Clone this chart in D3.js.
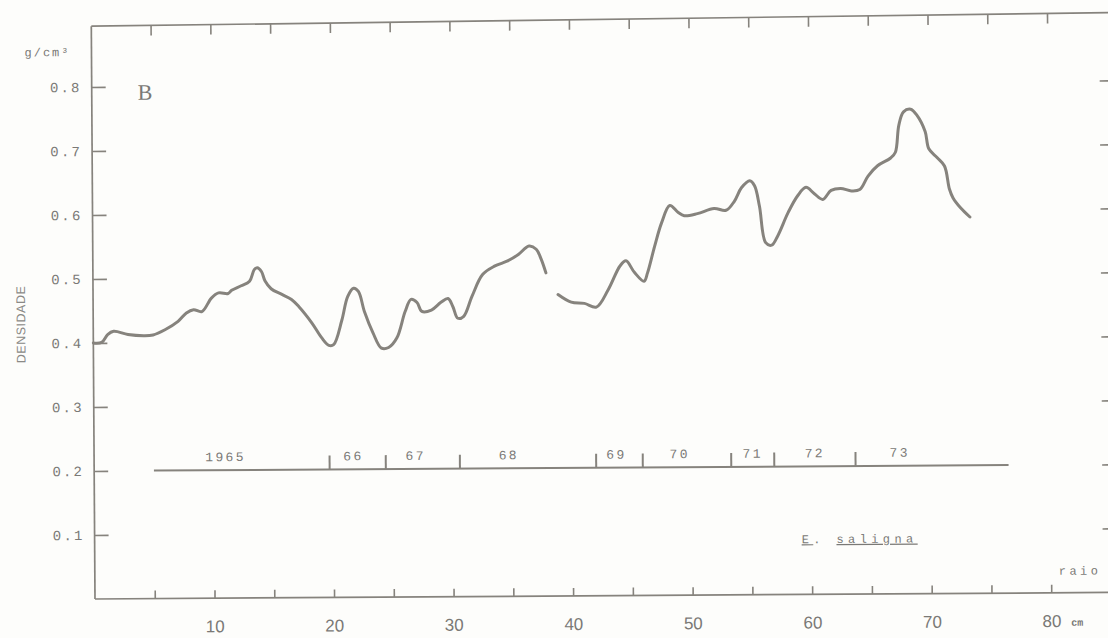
<!DOCTYPE html>
<html>
<head>
<meta charset="utf-8">
<script src="https://cdn.jsdelivr.net/npm/d3@7"></script>
<style>
  html, body { margin: 0; padding: 0; background: #fdfdfb; }
  svg { display: block; }
</style>
</head>
<body>
<svg id="chart" width="1108" height="638"></svg>
<script>
// radial position (cm) and wood density (g/cm3); null = pen lifted
const radius = [0.0, 0.7, 1.2, 1.7, 2.9, 4.2, 5.0, 6.0, 7.1, 7.8, 8.4, 9.1, 9.9, 10.5, 11.3, 11.6,
  12.4, 13.1, 13.5, 13.75, 14.1, 14.4, 14.9, 15.8, 16.6, 17.2, 18.3, 19.1, 19.7, 20.1, 20.8,
  21.3, 21.8, 22.2, 22.7, 23.4, 24.1, 24.7, 25.4, 26.1, 26.6, 27.1, 27.5, 28.3, 29.1, 29.7,
  30.1, 30.5, 31.0, 31.7, 32.6, 33.6, 34.7, 35.6, 36.5, 37.1, 37.5, 37.9, 38.4,
  38.9, 40.0, 41.1, 42.1, 43.1, 44.1, 44.6, 45.3, 46.1, 46.4, 47.0, 47.6, 48.3, 49.0, 49.5,
  50.6, 52.0, 53.0, 53.7, 54.3, 55.0, 55.4, 55.8, 56.3, 56.8, 57.3, 58.2, 59.0, 59.7, 60.4,
  61.1, 61.8, 62.6, 63.5, 64.2, 64.9, 65.7, 66.8, 67.2, 67.5, 67.9, 68.5, 69.0, 69.7, 70.0,
  70.7, 71.3, 71.7, 72.0, 72.6, 73.4];
const density = [0.400, 0.401, 0.413, 0.418, 0.413, 0.411, 0.412, 0.420, 0.433, 0.446, 0.451, 0.448, 0.469, 0.477, 0.476, 0.481,
  0.488, 0.495, 0.513, 0.516, 0.510, 0.495, 0.483, 0.474, 0.466, 0.455, 0.429, 0.406, 0.394, 0.395, 0.433,
  0.470, 0.483, 0.478, 0.446, 0.413, 0.389, 0.390, 0.405, 0.446, 0.465, 0.460, 0.446, 0.448, 0.460, 0.466,
  0.453, 0.435, 0.438, 0.469, 0.503, 0.516, 0.524, 0.534, 0.547, 0.542, 0.527, 0.505, null,
  0.471, 0.459, 0.457, 0.451, 0.478, 0.515, 0.523, 0.505, 0.491, 0.504, 0.545, 0.582, 0.609, 0.598, 0.593,
  0.596, 0.604, 0.601, 0.615, 0.636, 0.647, 0.639, 0.607, 0.550, 0.546, 0.560, 0.597, 0.623, 0.636, 0.626,
  0.617, 0.631, 0.634, 0.630, 0.632, 0.653, 0.669, 0.681, 0.690, 0.732, 0.753, 0.757, 0.748, 0.722, 0.695,
  0.681, 0.668, 0.632, 0.618, 0.603, 0.588];

// growth rings marked along the 0.2 line
const yearSpan = [5.0, 76.5];
const yearBounds = [19.7, 24.4, 30.6, 42.0, 45.9, 53.3, 56.9, 63.7];
const yearNames = ["1965", "66", "67", "68", "69", "70", "71", "72", "73"];
const yearLabelAt = [11.0, 21.7, 26.9, 34.7, 43.7, 49.0, 55.1, 60.3, 67.4];
const yearLevel = 0.2;

const yTicks = [0.1, 0.2, 0.3, 0.4, 0.5, 0.6, 0.7, 0.8];
const xTicks = [5, 10, 15, 20, 25, 30, 35, 40, 45, 50, 55, 60, 65, 70, 75, 80];

const ink = "#86837d";
const textInk = "#7a7976";
const mono = "'Liberation Mono', 'DejaVu Sans Mono', monospace";

const svg = d3.select("#chart");
// the scan is tilted a little, so the whole sheet is turned with it
const g = svg.append("g").attr("transform", "rotate(-0.37, 95, 599)");

const x = d3.scaleLinear().domain([0, 85.5]).range([95, 1117]);
const y = d3.scaleLinear().domain([0, 0.9]).range([599, 23]);

// frame
g.append("line")
  .attr("x1", x(0)).attr("x2", x(0))
  .attr("y1", y(0)).attr("y2", y(0.895))
  .attr("stroke", ink).attr("stroke-width", 1.7);
g.append("line")
  .attr("x1", x(0)).attr("x2", x(85.5))
  .attr("y1", y(0)).attr("y2", y(0))
  .attr("stroke", ink).attr("stroke-width", 1.7);
g.append("line")
  .attr("x1", x(0)).attr("x2", x(85.5))
  .attr("y1", y(0.895)).attr("y2", y(0.906))
  .attr("stroke", ink).attr("stroke-width", 1.7);
g.append("line")
  .attr("x1", x(85.5)).attr("x2", x(85.5))
  .attr("y1", y(0)).attr("y2", y(0.906))
  .attr("stroke", ink).attr("stroke-width", 1.7);

// left axis
const yAxis = g.append("g")
  .attr("transform", `translate(${x(0)},0)`)
  .call(d3.axisLeft(y).tickValues(yTicks).tickSize(-14).tickPadding(12).tickFormat(d3.format(".1f")));
yAxis.select(".domain").remove();
yAxis.selectAll(".tick line").attr("stroke", ink).attr("stroke-width", 1.7);
yAxis.selectAll(".tick text")
  .attr("fill", textInk).attr("font-family", mono).attr("font-size", 14)
  .attr("letter-spacing", 2.2).attr("dx", 2);

// right axis, mostly off the page
const yAxisR = g.append("g")
  .attr("transform", `translate(${x(85.5)},0)`)
  .call(d3.axisRight(y).tickValues(yTicks).tickSize(-14).tickFormat(""));
yAxisR.select(".domain").remove();
yAxisR.selectAll(".tick line").attr("stroke", ink).attr("stroke-width", 1.7);

// bottom axis
const xAxis = g.append("g")
  .attr("transform", `translate(0,${y(0)})`)
  .call(d3.axisBottom(x).tickValues(xTicks).tickSize(-8).tickPadding(22)
    .tickFormat(d => d % 10 === 0 ? d : ""));
xAxis.select(".domain").remove();
xAxis.selectAll(".tick line").attr("stroke", ink).attr("stroke-width", 1.6);
xAxis.selectAll(".tick text")
  .attr("fill", textInk).attr("font-family", "'Liberation Sans', Arial, sans-serif")
  .attr("font-size", 17);

// top ticks
g.append("g").selectAll("line")
  .data(xTicks)
  .join("line")
  .attr("x1", d => x(d)).attr("x2", d => x(d))
  .attr("y1", d => y(0.895 + 0.011 * d / 85.5))
  .attr("y2", d => y(0.895 + 0.011 * d / 85.5) + 10)
  .attr("stroke", ink).attr("stroke-width", 1.6);

// density trace
const line = d3.line()
  .defined((d, i) => density[i] !== null)
  .x((d, i) => x(radius[i]))
  .y((d, i) => y(density[i]))
  .curve(d3.curveCatmullRom.alpha(0.5));

g.append("path")
  .datum(radius)
  .attr("d", line)
  .attr("fill", "none")
  .attr("stroke", "#86837d")
  .attr("stroke-width", 3)
  .attr("stroke-linejoin", "round")
  .attr("stroke-linecap", "round");

// year line
g.append("line")
  .attr("x1", x(yearSpan[0])).attr("x2", x(yearSpan[1]))
  .attr("y1", y(yearLevel)).attr("y2", y(yearLevel))
  .attr("stroke", ink).attr("stroke-width", 2);

g.append("g").selectAll("line")
  .data(yearBounds)
  .join("line")
  .attr("x1", d => x(d)).attr("x2", d => x(d))
  .attr("y1", y(yearLevel)).attr("y2", y(yearLevel) - 14)
  .attr("stroke", ink).attr("stroke-width", 2);

g.append("g").selectAll("text")
  .data(yearNames)
  .join("text")
  .attr("x", (d, i) => x(yearLabelAt[i]))
  .attr("y", y(yearLevel) - 9)
  .attr("text-anchor", "middle")
  .attr("fill", textInk).attr("font-family", mono).attr("font-size", 13)
  .attr("letter-spacing", 2.4)
  .text(d => d);

// labels
g.append("text")
  .attr("x", 28).attr("y", 56)
  .attr("fill", textInk).attr("font-family", mono).attr("font-size", 12)
  .attr("letter-spacing", 2)
  .text("g/cm³");

g.append("text")
  .attr("x", 141).attr("y", 100)
  .attr("fill", textInk).attr("font-family", "'Liberation Serif', 'DejaVu Serif', serif")
  .attr("font-size", 22)
  .text("B");

g.append("text")
  .attr("transform", "translate(27,324) rotate(-90)")
  .attr("text-anchor", "middle")
  .attr("fill", "#8a8986").attr("font-family", "'Liberation Sans', Arial, sans-serif")
  .attr("font-size", 12.5).attr("letter-spacing", 0.5)
  .text("DENSIDADE");

g.append("text")
  .attr("x", 802).attr("y", y(0.08))
  .attr("fill", textInk).attr("font-family", mono).attr("font-size", 12)
  .attr("letter-spacing", 4.4)
  .call(t => t.append("tspan").attr("text-decoration", "underline").text("E"))
  .call(t => t.append("tspan").text(". "))
  .call(t => t.append("tspan").attr("text-decoration", "underline").text("saligna"));

g.append("text")
  .attr("x", 1059).attr("y", 581)
  .attr("fill", textInk).attr("font-family", mono).attr("font-size", 12)
  .attr("letter-spacing", 3.4)
  .text("raio");

g.append("text")
  .attr("x", 1071).attr("y", 632)
  .attr("fill", textInk).attr("font-family", mono).attr("font-size", 10)
  .attr("font-weight", "bold")
  .text("cm");
</script>
</body>
</html>
